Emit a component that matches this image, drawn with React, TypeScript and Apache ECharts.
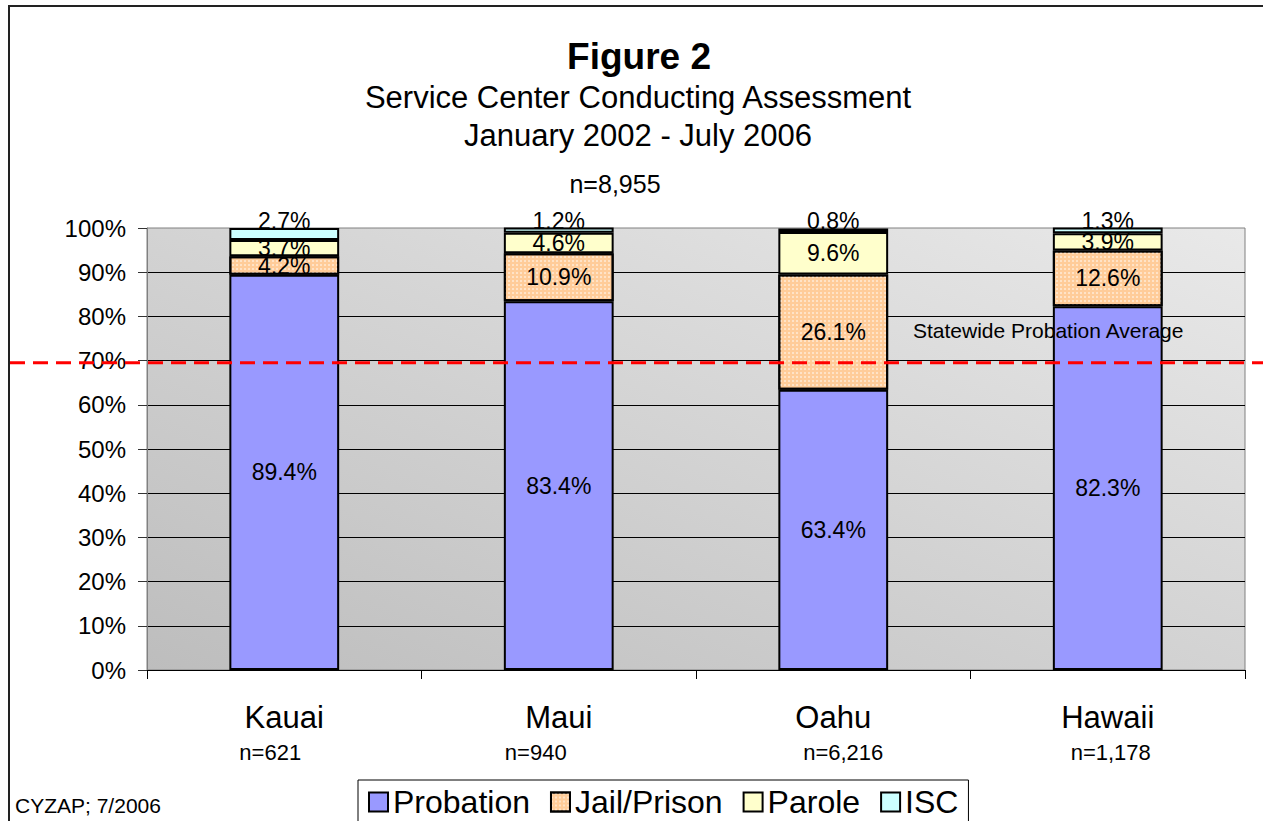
import React, { useEffect, useRef } from 'react';
import * as echarts from 'echarts';

const categories = ['Kauai', 'Maui', 'Oahu', 'Hawaii'];
const categoryCounts = ['n=621', 'n=940', 'n=6,216', 'n=1,178'];
const probation = [89.4, 83.4, 63.4, 82.3];
const jailPrison = [4.2, 10.9, 26.1, 12.6];
const parole = [3.7, 4.6, 9.6, 3.9];
const isc = [2.7, 1.2, 0.8, 1.3];
const statewideProbationAverage = 69.5;
const totalCount = 'n=8,955';
const titleText = 'Figure 2';
const subtitleLines = ['Service Center Conducting Assessment', 'January 2002 - July 2006'];
const sourceNote = 'CYZAP; 7/2006';
const averageLabel = 'Statewide Probation Average';

// layout offsets (pixels) for the n= annotations under each category
const countOffsets = [-14, -23, 10, 3];

const FONT = '"Liberation Sans", Arial, Helvetica, sans-serif';

export default function App() {
  const ref = useRef<HTMLDivElement>(null);
  useEffect(() => {
    if (!ref.current) return;
    const chart = echarts.init(ref.current, undefined, { renderer: 'svg' });
    const barBase = {
      type: 'bar',
      stack: 'total',
      barWidth: '40%',
      label: {
        show: true,
        position: 'inside',
        formatter: (p: any) => p.value.toFixed(1) + '%',
        fontSize: 23,
        fontFamily: FONT,
        color: '#000',
      },
    };
    const border = { borderColor: '#000', borderWidth: 2 };
    chart.setOption({
      animation: false,
      grid: {
        left: 147,
        right: 18,
        top: 228,
        bottom: 151,
        show: true,
        backgroundColor: new echarts.graphic.LinearGradient(0, 1, 1, 0, [
          { offset: 0, color: '#bdbdbd' },
          { offset: 1, color: '#e9e9e9' },
        ]),
        borderColor: '#808080',
        borderWidth: 1,
      },
      legend: {
        left: 358,
        top: 780,
        icon: 'rect',
        selectedMode: false,
        borderColor: '#000',
        borderWidth: 1,
        padding: [6, 10, 6, 10],
        itemGap: 20,
        itemWidth: 19,
        itemHeight: 19,
        itemStyle: { borderColor: '#000', borderWidth: 2 },
        textStyle: { fontSize: 32, fontFamily: FONT, color: '#000' },
        data: ['Probation', 'Jail/Prison', 'Parole', 'ISC'],
      },
      xAxis: {
        type: 'category',
        data: categories,
        axisLine: { lineStyle: { color: '#000', width: 1 } },
        axisTick: { show: true, length: 9, lineStyle: { color: '#000' } },
        axisLabel: { fontSize: 31, fontFamily: FONT, color: '#000', margin: 32 },
      },
      yAxis: {
        type: 'value',
        min: 0,
        max: 100,
        interval: 10,
        axisLine: { show: true, lineStyle: { color: '#808080' } },
        axisTick: { show: true, length: 9, lineStyle: { color: '#333' } },
        axisLabel: { formatter: '{value}%', fontSize: 24, fontFamily: FONT, color: '#000', margin: 21 },
        splitLine: { show: true, showMaxLine: false, lineStyle: { color: '#000', width: 1 } },
      },
      series: [
        { ...barBase, name: 'Probation', data: probation, itemStyle: { color: '#9999FF', ...border } },
        {
          ...barBase,
          name: 'Jail/Prison',
          data: jailPrison,
          itemStyle: {
            color: '#FFCC99',
            ...border,
            decal: {
              symbol: 'rect',
              symbolSize: 1,
              color: 'rgba(255,255,255,0.45)',
              dashArrayX: [2, 2],
              dashArrayY: [2, 2],
            },
          },
        },
        { ...barBase, name: 'Parole', data: parole, itemStyle: { color: '#FFFFCC', ...border } },
        {
          ...barBase,
          name: 'ISC',
          data: isc,
          itemStyle: { color: '#CCFFFF', ...border },
          label: { ...barBase.label, position: ['50%', -7], align: 'center', verticalAlign: 'middle' },
        },
      ],
    });

    const yAvg = chart.convertToPixel({ yAxisIndex: 0 }, statewideProbationAverage) as number;
    const yBase = chart.convertToPixel({ yAxisIndex: 0 }, 0) as number;
    const countTexts = categoryCounts.map((t, i) => {
      const x = chart.convertToPixel({ xAxisIndex: 0 }, i) as number;
      return {
        type: 'text',
        x: x + countOffsets[i],
        y: yBase + 82,
        style: { text: t, font: `22px ${FONT}`, fill: '#000', textAlign: 'center', textVerticalAlign: 'middle' },
      };
    });

    chart.setOption({
      graphic: [
        {
          type: 'rect',
          silent: true,
          z: -1,
          shape: { x: 9, y: 6, width: 1400, height: 1000 },
          style: { fill: 'none', stroke: '#222', lineWidth: 2 },
        },
        {
          type: 'text',
          x: 639,
          y: 56,
          style: { text: titleText, font: `bold 37px ${FONT}`, fill: '#000', textAlign: 'center', textVerticalAlign: 'middle' },
        },
        {
          type: 'text',
          x: 638,
          y: 97,
          style: { text: subtitleLines[0], font: `31px ${FONT}`, fill: '#000', textAlign: 'center', textVerticalAlign: 'middle' },
        },
        {
          type: 'text',
          x: 638,
          y: 135,
          style: { text: subtitleLines[1], font: `31px ${FONT}`, fill: '#000', textAlign: 'center', textVerticalAlign: 'middle' },
        },
        {
          type: 'text',
          x: 615,
          y: 184,
          style: { text: totalCount, font: `25px ${FONT}`, fill: '#000', textAlign: 'center', textVerticalAlign: 'middle' },
        },
        {
          type: 'text',
          x: 15,
          y: 805,
          style: { text: sourceNote, font: `21px ${FONT}`, fill: '#000', textAlign: 'left', textVerticalAlign: 'middle' },
        },
        {
          type: 'text',
          z: 100,
          x: 913,
          y: yAvg - 32,
          style: { text: averageLabel, font: `21px ${FONT}`, fill: '#000', textAlign: 'left', textVerticalAlign: 'middle' },
        },
        {
          type: 'line',
          z: 100,
          silent: true,
          shape: { x1: 10, y1: yAvg, x2: 1263, y2: yAvg },
          style: { stroke: '#FF0000', lineWidth: 3, lineDash: [15, 8] },
        },
        ...countTexts,
      ],
    });

    return () => chart.dispose();
  }, []);
  return <div ref={ref} style={{ position: 'absolute', left: 0, top: 0, width: 1263, height: 821 }} />;
}
